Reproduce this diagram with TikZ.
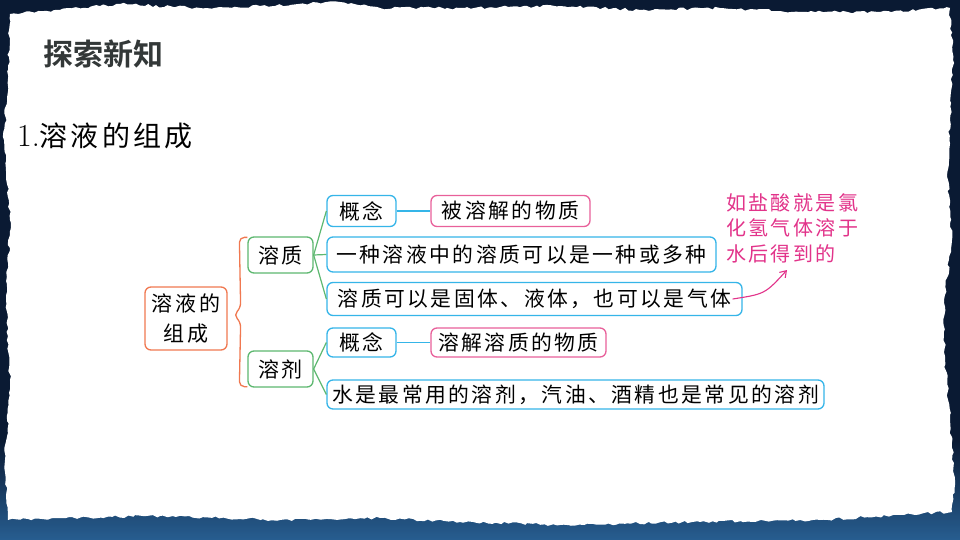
\documentclass[tikz,border=0pt]{standalone}
\usepackage{fontspec}
\usetikzlibrary{arrows.meta,decorations.pathmorphing,calc}
\newfontfamily\cjk[LetterSpace=12]{Noto Sans CJK SC}
\newfontfamily\cjkplain{Noto Sans CJK SC}
\newfontfamily\cjkbold{Noto Sans CJK SC Bold}
\definecolor{bgdark}{HTML}{0A1A33}
\definecolor{bgblue}{HTML}{2F6FA8}
\definecolor{orangeC}{HTML}{F07850}
\definecolor{greenC}{HTML}{5DB870}
\definecolor{blueC}{HTML}{35B5E8}
\definecolor{pinkC}{HTML}{E8609A}
\definecolor{noteC}{HTML}{E2338A}
\definecolor{titleC}{HTML}{333838}
\begin{document}
\begin{tikzpicture}[x=1pt,y=-1pt,
  box/.style={draw, rounded corners=6pt, line width=1.3pt, inner sep=0pt, fill=white, text=black, font=\cjk\fontsize{20.8}{24}\selectfont},
  rootbox/.style={box, draw=orangeC, font=\cjk\fontsize{21}{30}\selectfont, align=center},
  greenbox/.style={box, draw=greenC, font=\cjk\fontsize{21}{24}\selectfont},
  bluebox/.style={box, draw=blueC},
  pinkbox/.style={box, draw=pinkC},
  gline/.style={draw=greenC, line width=1.2pt},
  bline/.style={draw=blueC, line width=1.3pt}]
\useasboundingbox (0,0) rectangle (960,540);
% background
\fill[bgdark] (0,0) rectangle (960,540);
\shade[top color=bgdark, bottom color=bgblue, opacity=0.8] (0,440) rectangle (960,540);
% paper
\pgfmathsetseed{7}
\fill[white, decorate, decoration={random steps, segment length=4pt, amplitude=1.4pt}]
 (10,14) -- (60,10) -- (120,4) -- (200,8) -- (260,6) -- (340,2) -- (380,8) -- (460,8) -- (560,6) -- (640,10) -- (720,8) -- (800,12) -- (880,12) -- (950,8) -- (953,60) -- (950,120) -- (948,180) -- (952,240) -- (944,300) -- (945,360) -- (950,420) -- (955,480) -- (952,512) -- (900,515) -- (820,520) -- (700,522) -- (560,525) -- (460,522) -- (380,518) -- (280,520) -- (160,516) -- (60,518) -- (8,520) -- (5,460) -- (10,380) -- (6,300) -- (10,220) -- (4,140) -- (8,70) -- cycle;
% titles
\node[anchor=west, inner sep=0pt, text=titleC, font=\cjkbold\fontsize{30}{32}\selectfont] (title) at (43,54) {探索新知};
\node[anchor=west, inner sep=0pt, font=\fontsize{32}{34}\selectfont] (head) at (17,136) {1.{\cjkplain\fontsize{28}{30}\selectfont\addfontfeature{LetterSpace=11}溶液的组成}};
% nodes
\node[rootbox, minimum width=82pt, minimum height=63pt] (root) at (186,318.5) {溶液的\\组成};
\node[greenbox, minimum width=65pt, minimum height=36pt] (solute) at (280.5,255) {溶质};
\node[greenbox, minimum width=65pt, minimum height=36pt] (solvent) at (280.5,369) {溶剂};
\node[bluebox, minimum width=69pt, minimum height=31pt] (c1) at (361.5,211) {概念};
\node[pinkbox, minimum width=159pt, minimum height=31pt] (p1) at (510.5,211) {被溶解的物质};
\node[bluebox, minimum width=389pt, minimum height=35pt] (d1) at (521.5,254.5) {一种溶液中的溶质可以是一种或多种};
\node[bluebox, minimum width=415pt, minimum height=33pt] (d2) at (534.5,299) {溶质可以是固体、液体，也可以是气体};
\node[bluebox, minimum width=69pt, minimum height=29pt] (c2) at (361.5,342.5) {概念};
\node[pinkbox, minimum width=175pt, minimum height=29pt] (p2) at (518.5,342.5) {溶解溶质的物质};
\node[bluebox, minimum width=497pt, minimum height=29pt] (d3) at (575.5,394.5) {水是最常用的溶剂，汽油、酒精也是常见的溶剂};
% brace
\coordinate (bt) at ($(solute.north west)+(0,1)$);
\coordinate (bb) at ($(solvent.south west)+(0,-1)$);
\coordinate (tip) at ($(root.east)+(6,-3.5)$);
\draw[orangeC, line width=1.3pt, rounded corners=5pt]
  (bt) -- ($(bt)+(-8,0)$) -- ($(tip)+(7,-7)$) -- (tip) -- ($(tip)+(7,7)$) -- ($(bb)+(-8,0)$) -- (bb);
% connectors
\draw[gline] (solute.east) -- (c1.west);
\draw[gline] (solute.east) -- (d1.west);
\draw[gline] (solute.east) -- (d2.west);
\draw[gline] (solvent.east) -- (c2.west);
\draw[gline] (solvent.east) -- (d3.west);
\draw[bline] (c1.east) -- (p1.west);
\draw[bline] (c2.east) -- (p2.west);
% note
\node[anchor=north west, inner sep=0pt, align=left, text=noteC, font=\cjk\fontsize{20}{25.5}\selectfont] (note) at (726,193) {如盐酸就是氯\\化氢气体溶于\\水后得到的};
\coordinate (nend) at (787,270);
\draw[noteC, line width=1.1pt, -{Straight Barb[length=6pt,width=8pt]}] ([xshift=-10pt]d2.east) .. controls (765,294) .. (nend);
\end{tikzpicture}
\end{document}
